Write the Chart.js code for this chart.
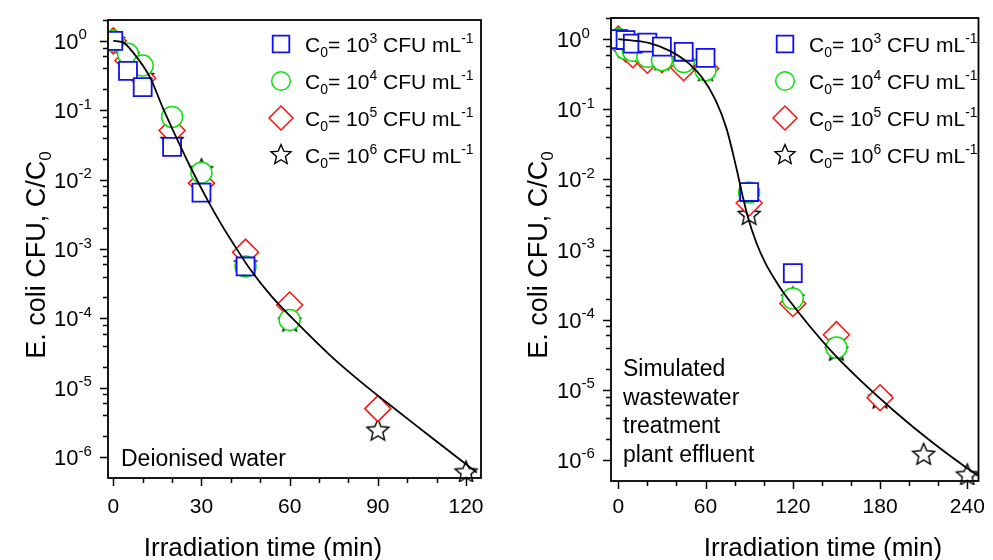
<!DOCTYPE html>
<html>
<head>
<meta charset="utf-8">
<script src="https://cdn.jsdelivr.net/npm/chart.js@4/dist/chart.umd.min.js"></script>
<style>
  html, body { margin: 0; padding: 0; background: #fff; }
  #wrap { position: relative; width: 993px; height: 560px; overflow: hidden; }
  canvas { position: absolute; top: 0; }
</style>
</head>
<body>
<div id="wrap">
  <canvas id="panelDI" width="500" height="560" style="left:0;width:500px;height:560px"></canvas>
  <canvas id="panelWW" width="493" height="560" style="left:500px;width:493px;height:560px"></canvas>
</div>
<script>
// ---------- Deionised water: C/C0 vs irradiation time (min) ----------
const diTimeC3  = [0, 5, 10, 20, 30, 45];
const diRatioC3 = [1.0, 0.37, 0.215, 0.0296, 0.0065, 5.6e-4];
const diTimeC4  = [0, 5, 10, 20, 30, 45, 60];
const diRatioC4 = [1.0, 0.65, 0.44, 0.080, 0.0126, 5.6e-4, 9.5e-5];
const diTimeC5  = [0, 5, 10, 20, 30, 45, 60, 90];
const diRatioC5 = [1.0, 0.52, 0.29, 0.051, 0.0089, 9.0e-4, 1.56e-4, 5.0e-6];
const diTimeC6  = [0, 5, 10, 20, 30, 45, 60, 90, 120];
const diRatioC6 = [1.0, 0.6, 0.3, 0.036, 0.0136, 6e-4, 9e-5, 2.4e-6, 6.0e-7];
// fitted inactivation curve
const diFitTime  = [0, 3.3, 6.7, 12.5, 16.9, 21.7, 26.1, 31.9, 36.3, 40.7, 46.5, 54.0, 63.5, 74.7, 86.3, 97.5, 108.7, 123.7];
const diFitRatio = [1.0, 0.951, 0.683, 0.298, 0.107, 0.0383, 0.0156, 0.00524, 0.00244, 0.00122, 5.15e-4, 2.04e-4, 7.80e-5, 2.70e-5, 1.03e-5, 4.36e-6, 1.85e-6, 5.98e-7];

// ---------- Simulated wastewater treatment plant effluent ----------
const wwTimeC3  = [0, 5, 10, 20, 30, 45, 60, 90, 120];
const wwRatioC3 = [1.0, 0.97, 0.86, 0.89, 0.78, 0.66, 0.54, 0.0066, 4.6e-4];
const wwTimeC4  = [0, 5, 10, 20, 30, 45, 60, 90, 120, 150];
const wwRatioC4 = [1.0, 0.73, 0.68, 0.56, 0.50, 0.47, 0.36, 0.0065, 2.0e-4, 4.0e-5];
const wwTimeC5  = [0, 5, 10, 20, 30, 45, 60, 90, 120, 150, 180];
const wwRatioC5 = [1.0, 0.73, 0.6, 0.50, 0.51, 0.39, 0.38, 0.0046, 1.7e-4, 6.1e-5, 7.7e-6];
const wwTimeC6  = [0, 5, 10, 20, 30, 45, 60, 90, 120, 150, 180, 210, 240];
const wwRatioC6 = [1.0, 0.75, 0.65, 0.55, 0.5, 0.45, 0.35, 0.0031, 2.0e-4, 3.6e-5, 7.5e-6, 1.18e-6, 6.0e-7];
// fitted inactivation curve
const wwFitTime  = [0, 21.5, 35.1, 48.7, 57.5, 67.0, 74.5, 81.3, 86.0, 89.4, 94.9, 101.0, 109.8, 116.6, 146.0, 168.7, 191.3, 213.9, 236.6, 247.7];
const wwFitRatio = [1.0, 0.877, 0.686, 0.447, 0.285, 0.134, 0.0525, 0.01426, 0.00524, 0.00277, 0.00126, 6.50e-4, 3.18e-4, 2.00e-4, 3.64e-5, 1.23e-5, 4.67e-6, 1.92e-6, 8.51e-7, 5.89e-7];

// axis ticks and labels
const xTicksDI = [0, 30, 60, 90, 120];
const xTicksWW = [0, 60, 120, 180, 240];
const yTickExponents = [0, -1, -2, -3, -4, -5, -6];
const legendExponents = ['3', '4', '5', '6'];
const xTitle = 'Irradiation time (min)';
const yTitle = 'E. coli CFU, C/C';
const noteDI = ['Deionised water'];
const noteWW = ['Simulated', 'wastewater', 'treatment', 'plant effluent'];

const FONT = '"Liberation Sans", Arial, Helvetica, sans-serif';
const BLUE = '#1010f0', GREEN = '#10e010', RED = '#ff1010', BLACK = '#000';

function pairs(xs, ys) { return xs.map((x, i) => ({ x: x, y: ys[i] })); }

// open five-pointed star used as a point style
function starImage(R, lw) {
  const size = Math.ceil(2 * R + 2 * lw + 2);
  const c = document.createElement('canvas');
  c.width = c.height = size;
  const g = c.getContext('2d');
  const cx = size / 2, cy = size / 2;
  g.beginPath();
  for (let i = 0; i < 10; i++) {
    const r = (i % 2) ? R * 0.45 : R;
    const a = -Math.PI / 2 + i * Math.PI / 5;
    g.lineTo(cx + r * Math.cos(a), cy + r * Math.sin(a));
  }
  g.closePath();
  g.fillStyle = '#fff'; g.fill();
  g.lineWidth = lw; g.strokeStyle = BLACK; g.lineJoin = 'miter'; g.stroke();
  return c;
}
const STAR = starImage(11.5, 1.4);
const STAR_SMALL = starImage(10.5, 1.4);

// text with sub/superscripts: segs = [[text, size, dy], ...]
function rich(ctx, x, y, segs, align) {
  let w = 0;
  for (const s of segs) { ctx.font = s[1] + 'px ' + FONT; w += ctx.measureText(s[0]).width; }
  let cx = align === 'center' ? x - w / 2 : (align === 'right' ? x - w : x);
  for (const s of segs) {
    ctx.font = s[1] + 'px ' + FONT;
    ctx.fillText(s[0], cx, y + (s[2] || 0));
    cx += ctx.measureText(s[0]).width;
  }
  return w;
}

function legendMarker(ctx, kind, x, y) {
  ctx.save();
  ctx.fillStyle = '#fff';
  ctx.lineWidth = 1.5;
  if (kind === 0) {
    ctx.strokeStyle = BLUE; ctx.lineWidth = 1.8;
    ctx.beginPath(); ctx.rect(x - 8.3, y - 8.3, 16.6, 16.6); ctx.fill(); ctx.stroke();
  } else if (kind === 1) {
    ctx.strokeStyle = GREEN;
    ctx.beginPath(); ctx.arc(x, y, 9.3, 0, Math.PI * 2); ctx.fill(); ctx.stroke();
  } else if (kind === 2) {
    ctx.strokeStyle = RED;
    ctx.beginPath(); ctx.moveTo(x - 12, y); ctx.lineTo(x, y - 12); ctx.lineTo(x + 12, y); ctx.lineTo(x, y + 12); ctx.closePath(); ctx.fill(); ctx.stroke();
  } else {
    ctx.drawImage(STAR_SMALL, x - STAR_SMALL.width / 2, y - STAR_SMALL.height / 2);
  }
  ctx.restore();
}

// frame, ticks, labels, titles, legend and note for one panel
const panelDecor = {
  id: 'panelDecor',
  afterDatasetsDraw(chart, args, o) {
    const ctx = chart.ctx;
    const a = chart.chartArea;
    const xs = chart.scales.x, ys = chart.scales.y;
    ctx.save();
    ctx.strokeStyle = BLACK; ctx.fillStyle = BLACK;
    ctx.lineWidth = 1.8;
    ctx.strokeRect(a.left, a.top, a.right - a.left, a.bottom - a.top);

    ctx.lineWidth = 1.5;
    ctx.beginPath();
    // x ticks (major + minor), outward
    for (let t = 0; t <= xs.max; t += o.xMinorStep) {
      const px = Math.round(xs.getPixelForValue(t)) + 0.5;
      const major = o.xTicks.includes(t);
      ctx.moveTo(px, a.bottom); ctx.lineTo(px, a.bottom + (major ? 8 : 5));
    }
    // y ticks, outward
    for (const e of yTickExponents) {
      const py = Math.round(ys.getPixelForValue(Math.pow(10, e))) + 0.5;
      ctx.moveTo(a.left, py); ctx.lineTo(a.left - 8, py);
      for (const m of [2, 4, 6, 8]) {
        const v = m * Math.pow(10, e);
        if (v > ys.max) continue;
        const q = Math.round(ys.getPixelForValue(v)) + 0.5;
        ctx.moveTo(a.left, q); ctx.lineTo(a.left - 5, q);
      }
    }
    ctx.stroke();

    // tick labels
    ctx.textBaseline = 'alphabetic';
    for (const t of o.xTicks) {
      rich(ctx, xs.getPixelForValue(t), 513, [[String(t), 21, 0]], 'center');
    }
    for (const e of yTickExponents) {
      const py = ys.getPixelForValue(Math.pow(10, e));
      rich(ctx, a.left - 54, py + 8, [['10', 22, 0], [String(e), 15, -9.5]], 'left');
    }

    // axis titles
    rich(ctx, o.xTitleX, 556, [[xTitle, 26, 0]], 'center');
    ctx.save();
    ctx.translate(o.yTitleX, 255);
    ctx.rotate(-Math.PI / 2);
    rich(ctx, 0, 9.5, [[yTitle, 27, 0], ['0', 17, 6]], 'center');
    ctx.restore();

    // legend
    const rows = [44, 81, 118, 155];
    rows.forEach((ry, i) => {
      legendMarker(ctx, i, o.legendX, ry);
      ctx.fillStyle = BLACK;
      rich(ctx, o.legendX + 24, ry + 7.5, [
        ['C', 21, 0], ['0', 14, 5], ['= 10', 21, 0], [legendExponents[i], 14, -9],
        [' CFU mL', 21, 0], ['-1', 14, -9]
      ], 'left');
    });

    // panel note
    o.note.forEach((line, i) => {
      rich(ctx, o.noteX, o.noteY + i * o.noteStep, [[line, 23, 0]], 'left');
    });
    ctx.restore();
  }
};

function buildPanel(id, d, o) {
  const markerClip = { left: 0, top: 0, right: 0, bottom: 4 };
  return new Chart(document.getElementById(id), {
    type: 'scatter',
    data: {
      datasets: [
        { label: 'fit', data: pairs(d.fitT, d.fitV), showLine: true, borderColor: BLACK, borderWidth: 1.8,
          pointRadius: 0, cubicInterpolationMode: 'monotone', fill: false },
        { label: 'C0 = 1e3', data: pairs(d.t3, d.v3), pointStyle: 'rect', pointRadius: 12.7,
          borderColor: BLUE, backgroundColor: '#fff', borderWidth: 1.8, clip: markerClip },
        { label: 'C0 = 1e4', data: pairs(d.t4, d.v4), pointStyle: 'circle', pointRadius: 10.5,
          borderColor: GREEN, backgroundColor: '#fff', borderWidth: 1.5, clip: markerClip },
        { label: 'C0 = 1e5', data: pairs(d.t5, d.v5), pointStyle: 'rectRot', pointRadius: 13,
          borderColor: RED, backgroundColor: '#fff', borderWidth: 1.5, clip: markerClip },
        { label: 'C0 = 1e6', data: pairs(d.t6, d.v6), pointStyle: STAR, pointRadius: 12,
          borderColor: BLACK, backgroundColor: '#fff', borderWidth: 1.4, clip: markerClip }
      ]
    },
    options: {
      responsive: false, animation: false, devicePixelRatio: 1, events: [],
      layout: { padding: o.padding },
      plugins: { legend: { display: false }, tooltip: { enabled: false }, panelDecor: o },
      scales: {
        x: { type: 'linear', min: o.xMin, max: o.xMax, display: false },
        y: { type: 'logarithmic', min: 5e-7, max: 2, display: false }
      }
    },
    plugins: [panelDecor]
  });
}

buildPanel('panelDI',
  { fitT: diFitTime, fitV: diFitRatio, t3: diTimeC3, v3: diRatioC3, t4: diTimeC4, v4: diRatioC4,
    t5: diTimeC5, v5: diRatioC5, t6: diTimeC6, v6: diRatioC6 },
  { padding: { left: 108, top: 20, right: 19, bottom: 82 }, xMin: -1.8, xMax: 125.1,
    xTicks: xTicksDI, xMinorStep: 10, xTitleX: 263, yTitleX: 35,
    legendX: 281, note: noteDI, noteX: 121, noteY: 466, noteStep: 28.5 });

buildPanel('panelWW',
  { fitT: wwFitTime, fitV: wwFitRatio, t3: wwTimeC3, v3: wwRatioC3, t4: wwTimeC4, v4: wwRatioC4,
    t5: wwTimeC5, v5: wwRatioC5, t6: wwTimeC6, v6: wwRatioC6 },
  { padding: { left: 111, top: 18, right: 10, bottom: 79 }, xMin: -5, xMax: 247.7,
    xTicks: xTicksWW, xMinorStep: 20, xTitleX: 323, yTitleX: 37,
    legendX: 285, note: noteWW, noteX: 123, noteY: 376, noteStep: 28.5 });
</script>
</body>
</html>
